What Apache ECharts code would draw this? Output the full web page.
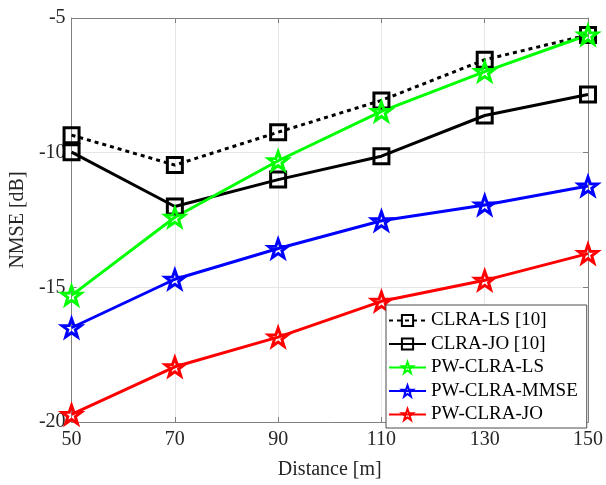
<!DOCTYPE html>
<html>
<head>
<meta charset="utf-8">
<script src="https://cdn.jsdelivr.net/npm/echarts@6/dist/echarts.min.js"></script>
<style>
  html, body { margin: 0; padding: 0; background: #fff; }
  #chart { width: 606px; height: 485px; }
</style>
</head>
<body>
<div id="chart"></div>
<script>
// Distance values (m)
const distances = [50, 70, 90, 110, 130, 150];
const xTicks = [50, 70, 90, 110, 130, 150];
const yTicks = [-20, -15, -10, -5];

// NMSE values (dB) for each method
const clraLS   = [-9.35, -10.46, -9.24, -8.06, -6.55, -5.63];
const clraJO   = [-9.98, -12.0, -11.0, -10.13, -8.62, -7.84];
const pwLS     = [-15.3, -12.4, -10.3, -8.47, -6.99, -5.63];
const pwMMSE   = [-16.5, -14.7, -13.56, -12.53, -11.94, -11.24];
const pwJO     = [-19.72, -17.95, -16.85, -15.52, -14.74, -13.75];

const FONT = '"Liberation Serif", "Times New Roman", serif';
const STAR = 'path://M0,-10 L2.35,-3.24 L9.51,-3.09 L3.8,1.24 L5.88,8.09 L0,4 L-5.88,8.09 L-3.8,1.24 L-9.51,-3.09 L-2.35,-3.24 Z';

const pairs = (ys) => distances.map((d, i) => [d, ys[i]]);

function mkSeries(name, ys, color, symbol, size, dashed) {
  return {
    name: name,
    type: 'line',
    data: pairs(ys),
    symbol: symbol,
    symbolSize: size,
    symbolKeepAspect: true,
    showAllSymbol: true,
    lineStyle: { color: color, width: 3, type: dashed ? [4, 4] : 'solid' },
    itemStyle: { color: 'rgba(255,255,255,0)', borderColor: color, borderWidth: 3 },
    emphasis: { disabled: true },
    animation: false,
    z: 3
  };
}

const chart = echarts.init(document.getElementById('chart'), null, { renderer: 'canvas' });

const AXIS_GRAY = '#808080';
const commonAxisLine = { show: true, lineStyle: { color: AXIS_GRAY, width: 1 } };
const tickStyle = { show: true, inside: true, length: 5, lineStyle: { color: AXIS_GRAY } };
const gridLine = { show: true, lineStyle: { color: '#e6e6e6', width: 1 } };

chart.setOption({
  backgroundColor: '#ffffff',
  animation: false,
  grid: { left: 68.5, right: 17, top: 18, bottom: 60, containLabel: false },
  xAxis: [
    {
      type: 'value', min: xTicks[0], max: xTicks[xTicks.length - 1], interval: 20,
      position: 'bottom',
      name: 'Distance [m]', nameLocation: 'middle', nameGap: 38,
      nameTextStyle: { fontFamily: FONT, fontSize: 20, color: '#262626' },
      axisLine: commonAxisLine,
      axisTick: tickStyle,
      axisLabel: { fontFamily: FONT, fontSize: 20, color: '#262626', margin: 8 },
      splitLine: gridLine
    },
    {
      type: 'value', min: xTicks[0], max: xTicks[xTicks.length - 1], interval: 20,
      position: 'top',
      axisLine: commonAxisLine,
      axisTick: tickStyle,
      axisLabel: { show: false },
      splitLine: { show: false }
    }
  ],
  yAxis: [
    {
      type: 'value', min: yTicks[0], max: yTicks[yTicks.length - 1], interval: 5,
      position: 'left',
      name: 'NMSE [dB]', nameLocation: 'middle', nameGap: 42, nameRotate: 90,
      nameTextStyle: { fontFamily: FONT, fontSize: 20, color: '#262626' },
      axisLine: commonAxisLine,
      axisTick: tickStyle,
      axisLabel: { fontFamily: FONT, fontSize: 20, color: '#262626', margin: 6 },
      splitLine: gridLine
    },
    {
      type: 'value', min: yTicks[0], max: yTicks[yTicks.length - 1], interval: 5,
      position: 'right',
      axisLine: commonAxisLine,
      axisTick: tickStyle,
      axisLabel: { show: false },
      splitLine: { show: false }
    }
  ],
  legend: {
    left: 386, top: 305,
    orient: 'vertical',
    backgroundColor: '#ffffff',
    borderColor: '#4d4d4d', borderWidth: 1,
    padding: [6, 9, 4, 2],
    itemWidth: 37, itemHeight: 14, itemGap: 4.5,
    textStyle: { fontFamily: FONT, fontSize: 19, color: '#000', lineHeight: 19, padding: [0, 0, 0, 0] },
    selectedMode: false,
    data: ['CLRA-LS [10]', 'CLRA-JO [10]', 'PW-CLRA-LS', 'PW-CLRA-MMSE', 'PW-CLRA-JO']
  },
  series: [
    mkSeries('CLRA-LS [10]', clraLS, '#000000', 'rect', 15, true),
    mkSeries('CLRA-JO [10]', clraJO, '#000000', 'rect', 15, false),
    mkSeries('PW-CLRA-LS', pwLS, '#00ff00', STAR, 19, false),
    mkSeries('PW-CLRA-MMSE', pwMMSE, '#0000ff', STAR, 19, false),
    mkSeries('PW-CLRA-JO', pwJO, '#ff0000', STAR, 19, false)
  ]
});
</script>
</body>
</html>
